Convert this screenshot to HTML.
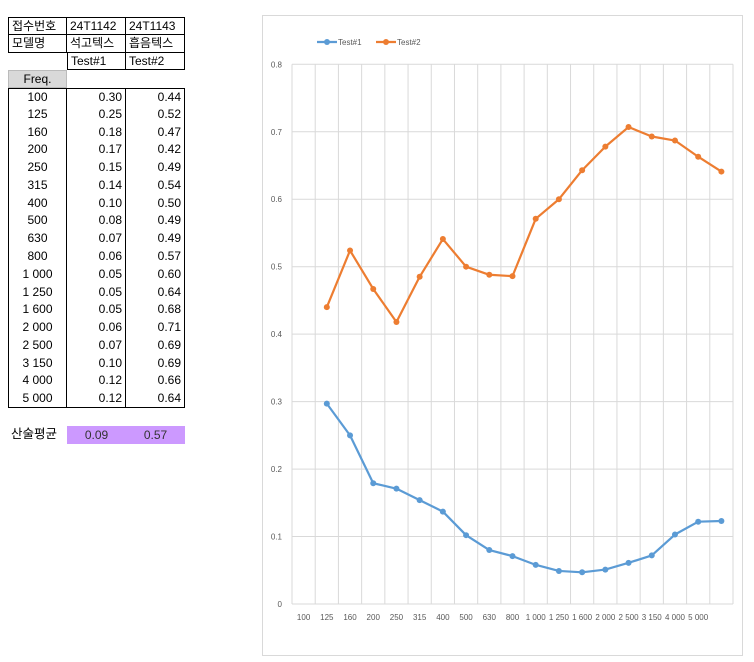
<!DOCTYPE html>
<html><head><meta charset="utf-8">
<style>
body{margin:0;width:754px;height:662px;background:#fff;position:relative;overflow:hidden;font-family:"Liberation Sans","Noto Sans CJK KR",sans-serif;}
.c{position:absolute;box-sizing:border-box;font-size:12px;line-height:17px;color:#000;padding:0 3px;white-space:nowrap;}
.r{text-align:right}.m{text-align:center}
</style></head><body>
<div id="tbl"></div>
<svg id="chart" width="754" height="662" style="position:absolute;left:0;top:0;pointer-events:none" font-family="Liberation Sans, sans-serif"></svg>
<script>
const freqs=["100","125","160","200","250","315","400","500","630","800","1 000","1 250","1 600","2 000","2 500","3 150","4 000","5 000"];
const test1=[0.30,0.25,0.18,0.17,0.15,0.14,0.10,0.08,0.07,0.06,0.05,0.05,0.05,0.06,0.07,0.10,0.12,0.12];
const test2=[0.44,0.52,0.47,0.42,0.49,0.54,0.50,0.49,0.49,0.57,0.60,0.64,0.68,0.71,0.69,0.69,0.66,0.64];
const plot1=[0.297,0.25,0.179,0.171,0.154,0.137,0.102,0.080,0.071,0.058,0.049,0.047,0.051,0.061,0.072,0.103,0.122,0.123];
const plot2=[0.44,0.524,0.467,0.418,0.485,0.541,0.500,0.488,0.486,0.571,0.600,0.643,0.678,0.707,0.693,0.687,0.663,0.641];
const yTicks=[0,0.1,0.2,0.3,0.4,0.5,0.6,0.7,0.8];
const avg=["0.09","0.57"];

// table
const T=document.getElementById('tbl');
const cx=[8,67,126,185], rh=17.77, top0=17;
function cell(col,row,text,cls,style,name){
  const d=document.createElement('div');
  d.className='c '+(cls||'');
  d.style.left=cx[col]+'px';d.style.width=(cx[col+1]-cx[col])+'px';
  d.style.top=(top0+row*rh)+'px';d.style.height=rh+'px';
  d.style.cssText+=style||'';
  d.textContent=text;
  
  
  T.appendChild(d);
}
const B='border:1px solid #000;';
cell(0,0,'접수번호','',B,'label-receipt-no');
cell(1,0,'24T1142','',B+'border-left:none;','receipt-1');
cell(2,0,'24T1143','',B+'border-left:none;','receipt-2');
cell(0,1,'모델명','',B+'border-top:none;','label-model');
cell(1,1,'석고텍스','',B+'border-top:none;border-left:none;','model-1');
cell(2,1,'흡음텍스','',B+'border-top:none;border-left:none;','model-2');
cell(1,2,'Test#1','',B+'border-top:none;','test1-header');
cell(2,2,'Test#2','',B+'border-top:none;border-left:none;','test2-header');
cell(0,3,'Freq.','m','background:#d9d9d9;border:1px solid #bbb;','freq-header');
for(let i=0;i<freqs.length;i++){
  const last=i===freqs.length-1, first=i===0;
  const bt=first?'border-top:1px solid #000;':'';
  const bb=last?'border-bottom:1px solid #000;':'';
  cell(0,4+i,freqs[i],'m','border-left:1px solid #000;border-right:1px solid #000;'+bt+bb,'freq-cell');
  cell(1,4+i,test1[i].toFixed(2),'r','border-right:1px solid #000;'+bt+bb,'test1-cell');
  cell(2,4+i,test2[i].toFixed(2),'r','border-right:1px solid #000;'+bt+bb,'test2-cell');
}
const ay=426;
const lab=document.createElement('div');lab.className='c';lab.style.cssText+='left:8px;top:'+ay+'px;height:18px;font-size:12.5px;';lab.textContent='산술평균';


T.appendChild(lab);
for(let k=0;k<2;k++){
  const d=document.createElement('div');d.className='c m';
  d.style.cssText+='left:'+cx[k+1]+'px;width:'+(cx[k+2]-cx[k+1])+'px;top:'+ay+'px;height:18px;background:#cc99ff;color:#333;line-height:18px;';
  d.textContent=avg[k];
  
  
  T.appendChild(d);
}

// chart
const S=document.getElementById('chart'),NS='http://www.w3.org/2000/svg';
function el(t,a,p){const e=document.createElementNS(NS,t);for(const k in a)e.setAttribute(k,a[k]);(p||S).appendChild(e);return e;}
const X0=292,X1=733,Y0=604,Y8=64.3,ncat=19,cw=(X1-X0)/ncat;
const yS=v=>Y0-(v/0.8)*(Y0-Y8);
const xS=i=>X0+(i+0.5)*cw;
const fr=el('rect',{x:262.5,y:15.5,width:480,height:640,fill:'none',stroke:'#d9d9d9'});


yTicks.forEach(v=>{
  const l=el('line',{x1:X0,x2:X1,y1:yS(v),y2:yS(v),stroke:'#d9d9d9'});
  
  
  const t=el('text',{x:282,y:yS(v)+3,'font-size':8,fill:'#595959','text-anchor':'end'});
  t.textContent=String(v);
  
  
});
for(let i=0;i<=ncat;i++){
  const l=el('line',{x1:X0+i*cw,x2:X0+i*cw,y1:Y8,y2:Y0,stroke:'#d9d9d9'});
  
  
}
freqs.forEach((f,i)=>{
  const t=el('text',{x:xS(i),y:620,'font-size':8,fill:'#595959','text-anchor':'middle'});
  t.textContent=f;
  
  
});
function series(vals,color,name){
  const pts=vals.map((v,i)=>xS(i+1)+','+yS(v)).join(' ');
  const pl=el('polyline',{points:pts,fill:'none',stroke:color,'stroke-width':2.2,'stroke-linejoin':'round'});
  
  
  vals.forEach((v,i)=>{
    const c=el('circle',{cx:xS(i+1),cy:yS(v),r:3,fill:color});
    
    
  });
}
series(plot1,'#5b9bd5','test1');
series(plot2,'#ed7d31','test2');
// legend
[['Test#1','#5b9bd5',317],['Test#2','#ed7d31',376]].forEach(([n,c,x])=>{
  const g=el('g',{});
  
  
  el('line',{x1:x,x2:x+20,y1:42,y2:42,stroke:c,'stroke-width':2.2},g);
  el('circle',{cx:x+10,cy:42,r:3,fill:c},g);
  const t=el('text',{x:x+21,y:45,'font-size':8,fill:'#595959'},g);
  t.textContent=n;
});
</script>
</body></html>
